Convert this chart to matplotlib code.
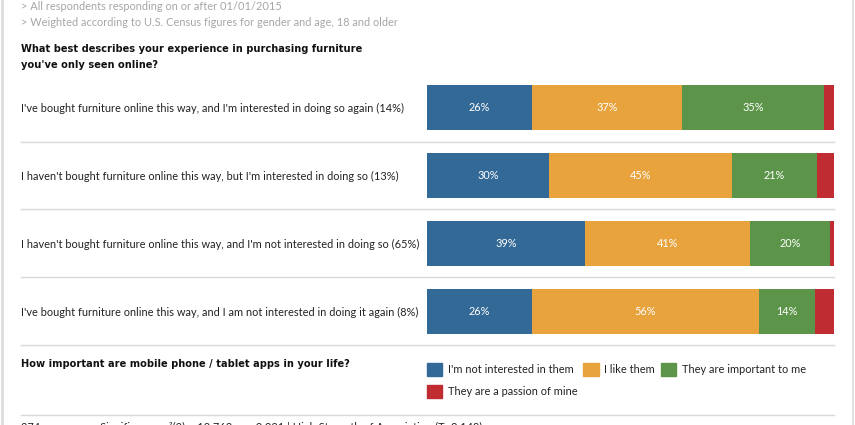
import matplotlib.pyplot as plt
from matplotlib.lines import Line2D
from matplotlib.patches import Patch
import numpy as np

plt.rcParams['font.family'] = ['Lato', 'DejaVu Sans']

# data
rows = [
    "I've bought furniture online this way, and I'm interested in doing so again (14%)",
    "I haven't bought furniture online this way, but I'm interested in doing so (13%)",
    "I haven't bought furniture online this way, and I'm not interested in doing so (65%)",
    "I've bought furniture online this way, and I am not interested in doing it again (8%)",
]
not_interested = [25.8, 30.0, 38.8, 25.8]
like_them = [36.9, 45.0, 40.6, 55.8]
important = [34.9, 20.8, 19.6, 13.8]
passion = [2.4, 4.2, 1.0, 4.6]
series_names = ["I'm not interested in them", "I like them",
                "They are important to me", "They are a passion of mine"]
colors = ['#336996', '#e8a33d', '#5c954a', '#bf2d33']

W, H = 855, 425
fig = plt.figure(figsize=(W / 100, H / 100), dpi=100)

def fx(px):
    return px / W

def fy(px):
    return 1 - px / H

# bar axes
top, bottom = 73.6, 345.0
ax = fig.add_axes([fx(427), fy(bottom), fx(834) - fx(427), (bottom - top) / H])
ypos = np.arange(len(rows))
left = np.zeros(len(rows))
for vals, name, c in zip([not_interested, like_them, important, passion], series_names, colors):
    vals = np.array(vals)
    ax.barh(ypos, vals, left=left, height=0.664, color=c, label=name)
    for y, v, l in zip(ypos, vals, left):
        if v >= 5:
            ax.text(l + v / 2, y, f"{round(v)}%", ha='center', va='center',
                    color='white', fontsize=7.8)
    left += vals

ax.set_xlim(0, 100)
ax.set_ylim(3.5, -0.5)
ax.set_yticks(ypos)
ax.set_yticklabels(rows, fontsize=7.9, color='#222222', ha='left')
ax.tick_params(axis='y', length=0, pad=(427 - 21) * 0.72)
ax.set_xticks([])
for s in ax.spines.values():
    s.set_visible(False)
ax.patch.set_alpha(0)

# separators
for yy in [141.5, 209, 277, 345, 415]:
    fig.add_artist(Line2D([fx(21), fx(834)], [fy(yy), fy(yy)], color='#d9d9d9', lw=1))
# frame lines left / right
fig.add_artist(Line2D([fx(1.5), fx(1.5)], [0, 1], color='#dddddd', lw=2))
fig.add_artist(Line2D([fx(853), fx(853)], [0, 1], color='#dddddd', lw=1.2))

# header
fig.text(fx(21), fy(7), "> All respondents responding on or after 01/01/2015",
         fontsize=7.9, color='#a6a6a6', va='center')
fig.text(fx(21), fy(22), "> Weighted according to U.S. Census figures for gender and age, 18 and older",
         fontsize=7.9, color='#a6a6a6', va='center')
bold = dict(fontsize=7.1, fontweight='bold', color='#111111', va='center',
            family='DejaVu Sans')
fig.text(fx(21), fy(49), "What best describes your experience in purchasing furniture", **bold)
fig.text(fx(21), fy(65), "you've only seen online?", **bold)
fig.text(fx(21), fy(364), "How important are mobile phone / tablet apps in your life?", **bold)

# legend (row-major order for 3 columns)
handles = [Patch(color=c) for c in colors]
order = [0, 3, 1, 2]
leg = fig.legend([handles[i] for i in order], [series_names[i] for i in order],
                 ncol=3, loc='upper left',
                 bbox_to_anchor=(fx(417), fy(353)), frameon=False,
                 fontsize=7.9, handlelength=1.4, handleheight=1.4,
                 handletextpad=0.5, columnspacing=0.55, labelspacing=0.85)
for t in leg.get_texts():
    t.set_color('#222222')

# footer (mostly cut off, as in the source)
fig.text(fx(21), fy(421.5),
         "274 responses   Significance: \u03c7\u00b2(9) = 19.763, p = 0.021 | High Strength of Association (T=0.148)",
         fontsize=7.9, color='#222222', va='top')

fig.savefig("out.png", dpi=100)
